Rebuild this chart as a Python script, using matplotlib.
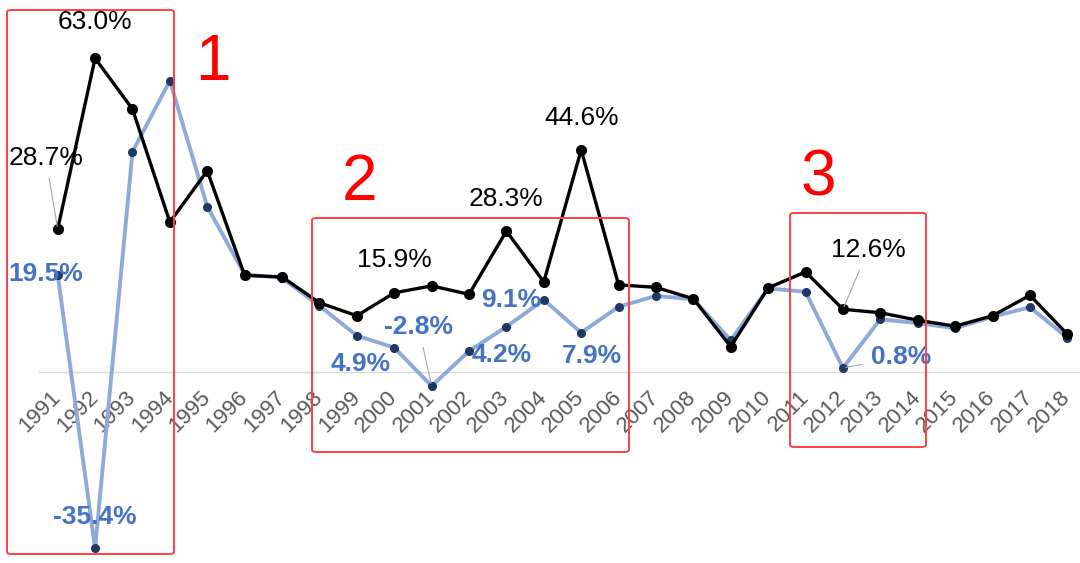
import matplotlib
matplotlib.use("Agg")
import matplotlib.pyplot as plt
from matplotlib.patches import FancyBboxPatch

years = [str(y) for y in range(1991, 2019)]
black_vals = [28.7, 63.0, 52.8, 30.1, 40.4, 19.4, 19.1, 13.9, 11.3, 15.9,
              17.3, 15.6, 28.3, 18.1, 44.6, 17.5, 17.0, 14.7, 5.1, 16.9,
              20.1, 12.6, 11.9, 10.4, 9.2, 11.3, 15.4, 7.6]
blue_vals = [19.5, -35.4, 44.2, 58.5, 33.2, 19.6, 18.9, 13.3, 7.3, 4.9,
             -2.8, 4.2, 9.1, 14.5, 7.9, 13.1, 15.3, 14.6, 6.4, 16.8,
             16.1, 0.8, 10.6, 9.8, 8.8, 11.1, 13.0, 6.9]

black_labeled = ["1991", "1992", "2000", "2003", "2005", "2012"]
blue_labeled = ["1991", "1992", "2000", "2001", "2002", "2003", "2005", "2012"]

# text offsets in pixels (dx, dy) and whether a leader line is drawn
black_offsets = {"1991": (-12, 71, True), "1992": (0, 36, False), "2000": (0, 33, False),
                 "2003": (0, 32, False), "2005": (0, 32, False), "2012": (25, 59, True)}
blue_offsets = {"1991": (-12, 1, False), "1992": (0, 31, False), "2000": (-34, -16, False),
                "2001": (-13, 59, True), "2002": (33, -4, False), "2003": (5, 27, False),
                "2005": (11, -23, False), "2012": (58, 11, True)}

BLACK = "#000000"
BLUE_LINE = "#8eaadb"
BLUE_MARK = "#203864"
BLUE_TEXT = "#4472c4"
RED = "#ff0000"

plt.rcParams['font.family'] = ['Liberation Sans', 'DejaVu Sans']

fig = plt.figure(figsize=(10.8, 5.63), dpi=100)
ax = fig.add_axes([39 / 1080, 0, 1047 / 1080, 1])
ax.set_xlim(-0.5, len(years) - 0.5)
ax.set_ylim(-38.35, 74.7)

x = list(range(len(years)))
ax.plot(x, blue_vals, color=BLUE_LINE, lw=2.8, marker='o', ms=5.5,
        mfc=BLUE_MARK, mec=BLUE_MARK, zorder=3)
ax.plot(x, black_vals, color=BLACK, lw=2.4, marker='o', ms=7,
        mfc=BLACK, mec=BLACK, zorder=4)

for spine in ['top', 'right', 'left']:
    ax.spines[spine].set_visible(False)
ax.spines['bottom'].set_position(('data', 0))
ax.spines['bottom'].set_color('#d9d9d9')
ax.spines['bottom'].set_linewidth(1.0)
ax.set_yticks([])
ax.set_xticks(x)
ax.set_xticklabels(years, rotation=45, ha='right', va='center',
                   rotation_mode='anchor', fontsize=16, color='#595959')
ax.tick_params(axis='x', length=0, pad=16)


def put_labels(vals, labeled, offsets, color, weight):
    for yr in labeled:
        i = years.index(yr)
        dx, dy, leader = offsets[yr]
        arrow = None
        if leader:
            arrow = dict(arrowstyle='-', color='#a6a6a6', lw=0.8,
                         shrinkA=4, shrinkB=2)
        ax.annotate(f"{vals[i]:.1f}%", xy=(i, vals[i]), xytext=(dx, dy),
                    textcoords='offset pixels', ha='center', va='center',
                    fontsize=19, color=color, fontweight=weight,
                    arrowprops=arrow, zorder=6)


put_labels(black_vals, black_labeled, black_offsets, BLACK, 'normal')
put_labels(blue_vals, blue_labeled, blue_offsets, BLUE_TEXT, 'bold')

# red highlight boxes (figure pixels: left, top, right, bottom) and numbers
boxes = [(7, 10, 174, 554), (312, 218, 629, 452), (790, 213, 926, 447)]
for l, t, r, b in boxes:
    fig.patches.append(FancyBboxPatch(
        (l / 1080, 1 - b / 563), (r - l) / 1080, (b - t) / 563,
        boxstyle="round,pad=0,rounding_size=0.004", transform=fig.transFigure,
        fill=False, edgecolor='#ff4040', lw=1.4, zorder=10))

for txt, (cx, cy) in zip(["1", "2", "3"], [(213, 63), (360, 183), (818, 178)]):
    fig.text(cx / 1080, 1 - cy / 563, txt, color=RED, fontsize=46,
             ha='center', va='center')

fig.savefig("out.png", dpi=100)
